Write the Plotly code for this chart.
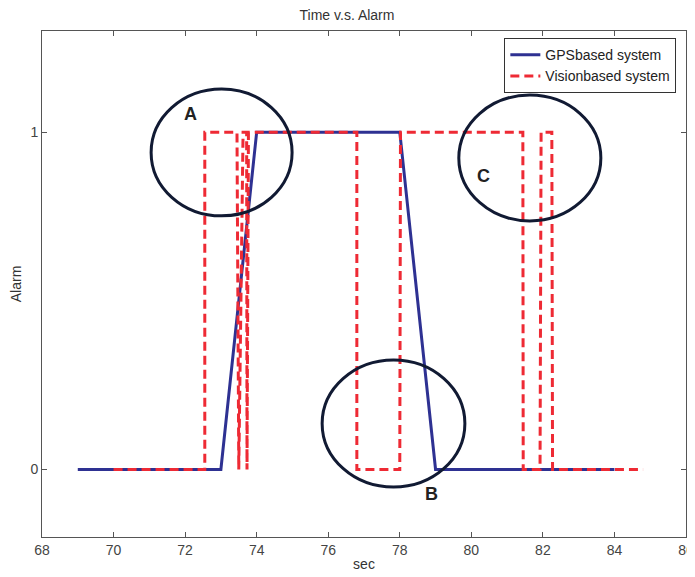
import plotly.graph_objects as go

# GPS-based system
gps_t = [69, 73, 74, 78, 79, 84]
gps_alarm = [0, 0, 1, 1, 0, 0]

# Vision-based system
vision_t = [70, 72.55, 72.55, 73.45, 73.5, 73.62, 73.72, 73.73, 73.77,
            76.8, 76.8, 78.0, 78.02, 81.44, 81.45, 81.92, 81.95, 82.25, 82.27, 84.8]
vision_alarm = [0, 0, 1, 1, 0, 1, 1, 0, 1,
                1, 0, 0, 1, 1, 0, 0, 1, 1, 0, 0]

x_ticks = [68, 70, 72, 74, 76, 78, 80, 82, 84, 86]
y_ticks = [0, 1]

# annotation ellipses (label, x0, x1, y0, y1, label_x, label_y)
ellipses = [
    ("A", 71.05, 74.99, 0.752, 1.128, 72.14, 1.053),
    ("C", 79.65, 83.62, 0.737, 1.11, 80.35, 0.869),
    ("B", 75.83, 79.82, -0.052, 0.325, 78.9, -0.073),
]

FONT = "Liberation Sans Narrow, Liberation Sans, Arial"

# page body has an 8px margin, so the figure is sized to fit the 695x577 window
W, H = 687, 569

fig = go.Figure()
fig.add_trace(go.Scatter(x=gps_t, y=gps_alarm, mode="lines", name="GPSbased system",
                         line=dict(color="#2e3192", width=3)))
fig.add_trace(go.Scatter(x=vision_t, y=vision_alarm, mode="lines", name="Visionbased system",
                         line=dict(color="#ee2a34", width=3, dash="9px,5px")))

for lab, x0, x1, y0, y1, lx, ly in ellipses:
    fig.add_shape(type="circle", xref="x", yref="y", x0=x0, x1=x1, y0=y0, y1=y1,
                  line=dict(color="#111a33", width=3))
    fig.add_annotation(x=lx, y=ly, text="<b>%s</b>" % lab, showarrow=False,
                       font=dict(family="Liberation Sans, Arial", size=18, color="#222"))

axis_common = dict(showline=True, linecolor="#555", linewidth=1, mirror="ticks",
                   ticks="inside", ticklen=5, tickcolor="#555", showgrid=False,
                   zeroline=False, automargin=False,
                   tickfont=dict(family=FONT, size=14, color="#444"))

fig.update_layout(
    width=W, height=H,
    margin=dict(l=34, r=9, t=23, b=40),
    paper_bgcolor="white", plot_bgcolor="white",
    title=dict(text="Time v.s. Alarm", x=(347 - 8) / W, xanchor="center",
               y=1 - 7 / H, yanchor="middle",
               font=dict(family=FONT, size=14, color="#333")),
    xaxis=dict(range=[68, 86], tickvals=x_ticks, ticktext=[str(v) for v in x_ticks],
               title=dict(text="sec", standoff=2, font=dict(family=FONT, size=14, color="#333")),
               **axis_common),
    yaxis=dict(range=[-0.2, 1.3], tickvals=y_ticks, ticktext=[str(v) for v in y_ticks],
               title=dict(text="Alarm", standoff=6, font=dict(family=FONT, size=14, color="#333")),
               **axis_common),
    legend=dict(x=0.985, y=0.986, xanchor="right", yanchor="top",
                bordercolor="#333", borderwidth=1, bgcolor="white",
                font=dict(family=FONT, size=14, color="#222"),
                tracegroupgap=0, itemwidth=30),
    showlegend=True,
)

fig.write_html("out.html")
